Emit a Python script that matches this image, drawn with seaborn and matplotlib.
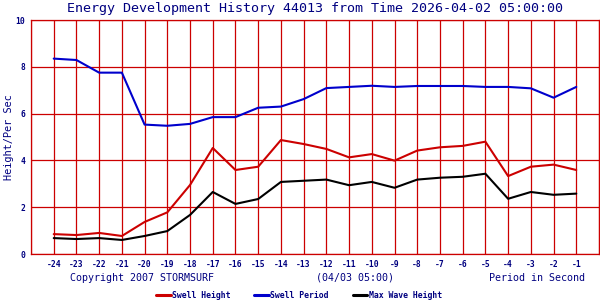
import matplotlib
matplotlib.use("Agg")
import matplotlib.pyplot as plt
import seaborn as sns
import pandas as pd
from matplotlib.lines import Line2D

periods = [-24, -23, -22, -21, -20, -19, -18, -17, -16, -15, -14, -13,
           -12, -11, -10, -9, -8, -7, -6, -5, -4, -3, -2, -1]
swell_height = [0.85, 0.81, 0.90, 0.77, 1.37, 1.78, 2.95, 4.53, 3.59, 3.73, 4.87, 4.70,
                4.49, 4.13, 4.27, 3.99, 4.42, 4.56, 4.62, 4.80, 3.33, 3.73, 3.82, 3.59]
swell_period = [8.35, 8.29, 7.75, 7.75, 5.53, 5.48, 5.56, 5.85, 5.85, 6.25, 6.30, 6.62,
                7.09, 7.14, 7.19, 7.14, 7.18, 7.18, 7.18, 7.14, 7.14, 7.08, 6.68, 7.14]
max_wave = [0.68, 0.64, 0.68, 0.60, 0.77, 0.98, 1.67, 2.65, 2.14, 2.35, 3.08, 3.13,
            3.18, 2.94, 3.08, 2.83, 3.18, 3.26, 3.30, 3.43, 2.36, 2.65, 2.53, 2.58]
series_names = ["Swell Height", "Swell Period", "Max Wave Height"]
colors = ["#CC0000", "#0000CC", "#000000"]
yticks = [0, 2, 4, 6, 8, 10]

title = "Energy Development History 44013 from Time 2026-04-02 05:00:00"
navy = "#000080"
mono = "DejaVu Sans Mono"

sns.set_style("white")
plt.rcParams["font.family"] = [mono, "DejaVu Sans"]

df = pd.DataFrame({"period": periods * 3,
                   "value": swell_height + swell_period + max_wave,
                   "series": [series_names[0]] * len(periods) + [series_names[1]] * len(periods)
                   + [series_names[2]] * len(periods)})

fig = plt.figure(figsize=(6, 3), dpi=100)
ax = fig.add_axes([31 / 600, 46 / 300, 568 / 600, 234 / 300])

for v in range(-25, 1):
    ax.axvline(v, color="#CC0000", lw=0.9, zorder=0)
for v in yticks:
    ax.axhline(v, color="#CC0000", lw=0.9, zorder=0)

sns.lineplot(data=df, x="period", y="value", hue="series", hue_order=series_names,
             palette=colors, linewidth=1.5, ax=ax, legend=False)

ax.set_xlim(-25, 0)
ax.set_ylim(0, 10)
ax.set_xticks(periods)
ax.set_xticklabels([str(p) for p in periods])
ax.set_yticks(yticks)
ax.tick_params(length=0, labelsize=5.8, labelcolor=navy, pad=4)
for lab in ax.get_xticklabels() + ax.get_yticklabels():
    lab.set_fontweight("bold")
ax.set_xlabel("")
ax.set_ylabel("Height/Per Sec", color=navy, fontsize=7.4, labelpad=1)
for s in ax.spines.values():
    s.set_color("#CC0000")
    s.set_linewidth(0.9)

fig.text(315 / 600, 0.973, title, ha="center", va="center", color=navy, fontsize=9.6)
fig.text(70 / 600, 1 - 278 / 300, "Copyright 2007 STORMSURF", ha="left", va="center",
         color=navy, fontsize=7.2)
fig.text(355 / 600, 1 - 278 / 300, "(04/03 05:00)", ha="center", va="center",
         color=navy, fontsize=7.2)
fig.text(585 / 600, 1 - 278 / 300, "Period in Second", ha="right", va="center",
         color=navy, fontsize=7.2)

handles = [Line2D([], [], color=c, lw=2.2) for c in colors]
leg = fig.legend(handles, series_names, loc="center", bbox_to_anchor=(299 / 600, 1 - 295 / 300),
                 ncol=3, frameon=False, fontsize=5.9, handlelength=1.8, handletextpad=0.15,
                 columnspacing=2.9, borderpad=0, borderaxespad=0)
for t in leg.get_texts():
    t.set_color(navy)
    t.set_fontweight("bold")

fig.savefig("out.png", dpi=100)
